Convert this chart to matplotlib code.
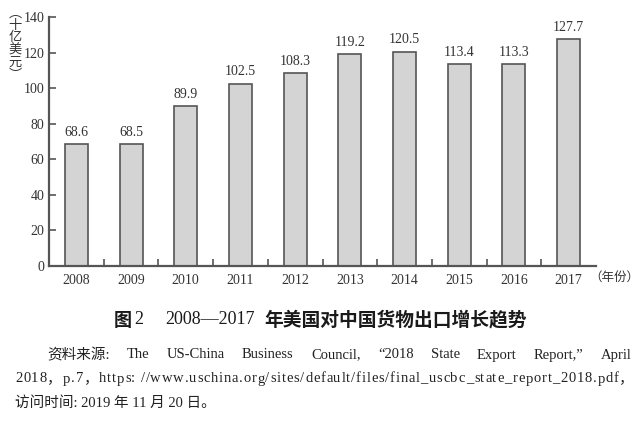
import matplotlib
matplotlib.use("Agg")
import matplotlib.pyplot as plt

years = ["2008", "2009", "2010", "2011", "2012", "2013", "2014", "2015", "2016", "2017"]
values = [68.6, 68.5, 89.9, 102.5, 108.3, 119.2, 120.5, 113.4, 113.3, 127.7]
yticks = [0, 20, 40, 60, 80, 100, 120, 140]

FAM = ['Liberation Serif', 'Noto Sans CJK SC']
CJK = ['Noto Sans CJK SC', 'Liberation Serif']
plt.rcParams['font.family'] = FAM

W, H = 640, 421
fig = plt.figure(figsize=(6.4, 4.21), dpi=100)
ax = fig.add_axes([49 / W, 1 - 266 / H, (596 - 49) / W, (266 - 17) / H])

axc = '#555555'
x = list(range(len(years)))
ax.bar(x, values, width=0.42, color='#d4d4d4', edgecolor=axc, linewidth=1.2, zorder=2)
for xi, v in zip(x, values):
    ax.text(xi, v + 3, f"{v}", ha='center', va='bottom', fontsize=10, color='#333333')

ax.set_xlim(-0.5, 9.5)
ax.set_ylim(0, 140)
ax.set_yticks(yticks)
ax.set_xticks(x)
ax.set_xticklabels(years)
ax.set_xticks([i + 0.5 for i in range(9)], minor=True)
ax.tick_params(axis='x', which='major', length=0, labelsize=10, colors='#333333', pad=6)
ax.tick_params(axis='x', which='minor', direction='in', length=5, width=1.2, color=axc)
ax.tick_params(axis='y', direction='in', length=5, width=1.2, color=axc, labelsize=10, labelcolor='#333333')
for s in ['top', 'right']:
    ax.spines[s].set_visible(False)
for s in ['left', 'bottom']:
    ax.spines[s].set_color(axc)
    ax.spines[s].set_linewidth(1.6)

# y-axis unit label (vertical)
fig.text(15 / W, 1 - 44 / H, "︵\n十\n亿\n美\n元\n︶", ha='center', va='center',
         fontsize=9.5, family=CJK, color='#333333', linespacing=0.95)
fig.text(614 / W, 1 - 277 / H, "（年份）", ha='center', va='center', fontsize=9,
         family=CJK, color='#333333')

# title, in pieces (bold CJK, regular serif digits)
title_parts = [("图", 114, CJK, 'bold', 13), ("2", 134, FAM, 'normal', 13),
               ("2008—2017", 165, FAM, 'normal', 13),
               ("年美国对中国货物出口增长趋势", 264, CJK, 'bold', 13.5)]
for t, px, fam, wt, fs in title_parts:
    fig.text(px / W, 1 - 320 / H, t, ha='left', va='center', fontsize=fs, family=fam,
             fontweight=wt, color='#1a1a1a')

fig.canvas.draw()
renderer = fig.canvas.get_renderer()


def justify(tokens, x0, x1, ypx, size):
    arts = [fig.text(0, 1 - ypx / H, t, ha='left', va='center', fontsize=size, color='#222222')
            for t in tokens]
    widths = [a.get_window_extent(renderer).width for a in arts]
    gap = (x1 - x0 - sum(widths)) / max(len(tokens) - 1, 1)
    pos = x0
    for a, w in zip(arts, widths):
        a.set_x(pos / W)
        pos += w + gap


# source note
line1 = ["资料来源:", "The", "US-China", "Business", "Council,", "“2018", "State", "Export",
         "Report,”", "April"]
justify(line1, 47, 632, 355, 10.5)
line2 = "2018，p.7，https: //www.uschina.org/sites/default/files/final_uscbc_state_report_2018.pdf，"
justify(list(line2), 15, 634, 379, 10.5)
fig.text(15 / W, 1 - 403 / H, "访问时间: 2019 年 11 月 20 日。", ha='left', va='center',
         fontsize=10.5, color='#222222')

fig.savefig("out.png", dpi=100)
